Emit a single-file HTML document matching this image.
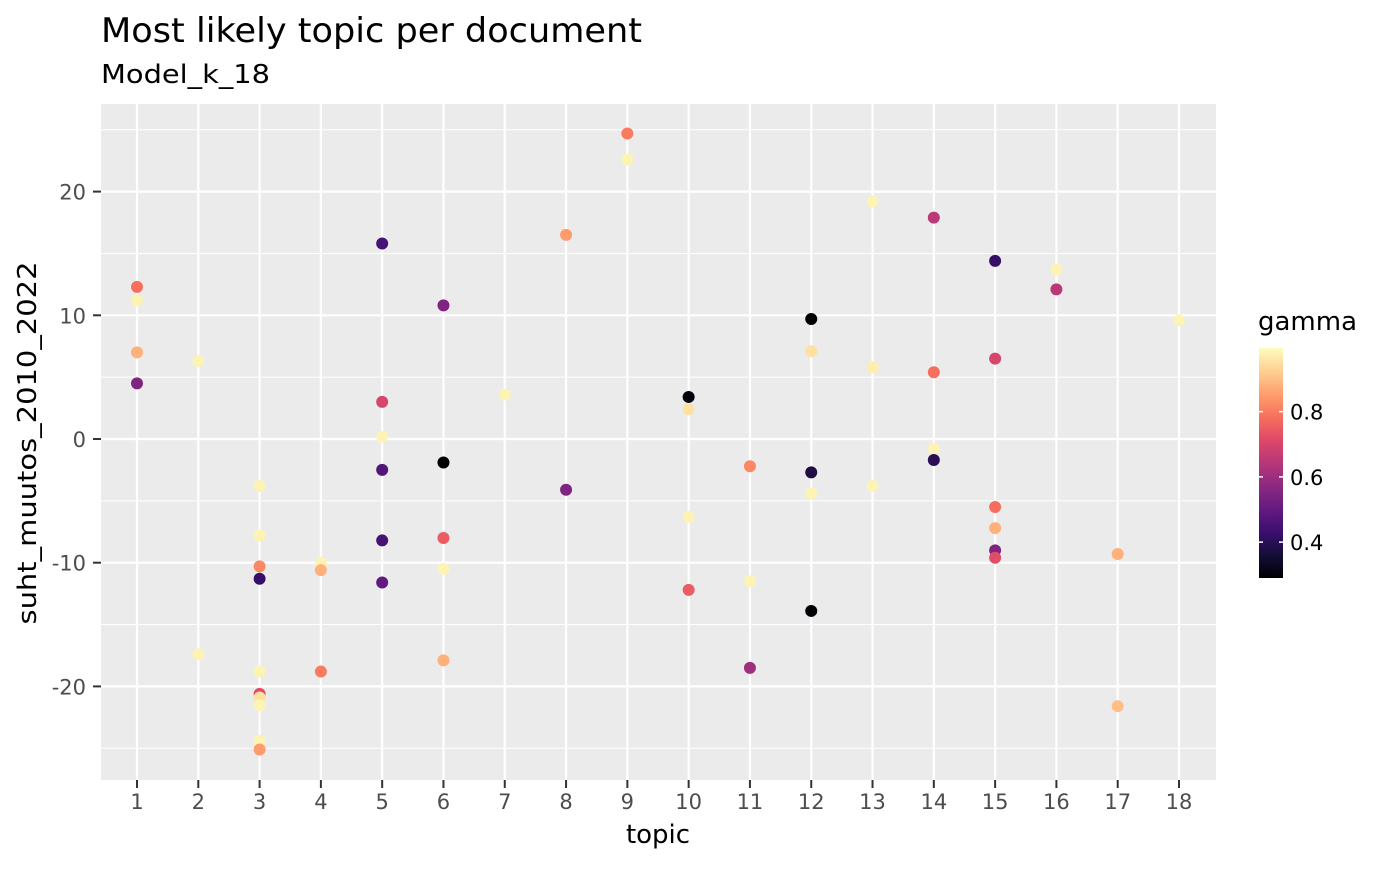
<!DOCTYPE html>
<html><head><meta charset="utf-8"><style>
body{margin:0;background:#fff;font-family:"DejaVu Sans","Liberation Sans",sans-serif}
</style></head><body>
<svg id="c" width="1400" height="865" xmlns="http://www.w3.org/2000/svg" font-family="DejaVu Sans, Liberation Sans, sans-serif">
<defs><linearGradient id="mg" x1="0" y1="1" x2="0" y2="0">
<stop offset="0" stop-color="#000004"/><stop offset="0.1" stop-color="#140e36"/><stop offset="0.2" stop-color="#3b0f70"/><stop offset="0.3" stop-color="#641a80"/><stop offset="0.4" stop-color="#8c2981"/><stop offset="0.5" stop-color="#b73779"/><stop offset="0.6" stop-color="#de4968"/><stop offset="0.7" stop-color="#f7705c"/><stop offset="0.8" stop-color="#fe9f6d"/><stop offset="0.9" stop-color="#fecf92"/><stop offset="1" stop-color="#fcfdbf"/>
</linearGradient></defs>
<text x="101" y="42" font-size="34" textLength="541" lengthAdjust="spacingAndGlyphs" fill="#000">Most likely topic per document</text>
<text x="101" y="83" font-size="26" textLength="169" lengthAdjust="spacingAndGlyphs" fill="#000">Model_k_18</text>
<rect x="101" y="104" width="1115" height="676" fill="#ebebeb"/>
<g id="grid"></g><g id="pts"></g><g id="axes"></g>
<text x="658" y="843" font-size="26" text-anchor="middle">topic</text>
<text transform="translate(36,443) rotate(-90)" font-size="26" textLength="363" lengthAdjust="spacingAndGlyphs" text-anchor="middle">suht_muutos_2010_2022</text>
<text x="1258" y="330" font-size="26">gamma</text>
<rect x="1259" y="348" width="24" height="230" fill="url(#mg)"/>
<g id="leg"></g>
</svg>
<script>
const topics=[1,1,1,1,2,2,3,3,3,3,3,3,3,3,3,3,4,4,4,5,5,5,5,5,5,6,6,6,6,6,7,8,8,9,9,10,10,10,10,11,11,11,12,12,12,12,12,13,13,13,14,14,14,14,15,15,15,15,15,15,16,16,17,17,18];
const values=[12.3,11.2,7.0,4.5,6.3,-17.4,-3.8,-7.8,-10.3,-11.3,-18.8,-20.6,-20.9,-21.5,-24.4,-25.1,-10.0,-10.6,-18.8,15.8,3.0,0.2,-2.5,-8.2,-11.6,10.8,-1.9,-8.0,-10.5,-17.9,3.6,16.5,-4.1,24.7,22.6,3.4,2.4,-6.3,-12.2,-2.2,-11.5,-18.5,9.7,7.1,-2.7,-4.4,-13.9,19.2,5.8,-3.8,17.9,5.4,-0.8,-1.7,14.4,6.5,-5.5,-7.2,-9.0,-9.6,13.7,12.1,-9.3,-21.6,9.6];
const gammas=[0.78,0.98,0.88,0.55,0.98,0.98,0.98,0.98,0.82,0.42,0.98,0.72,0.95,0.98,0.98,0.85,0.98,0.88,0.8,0.45,0.7,0.98,0.47,0.45,0.5,0.55,0.29,0.75,0.98,0.88,0.98,0.85,0.55,0.8,0.98,0.3,0.95,0.98,0.75,0.82,0.98,0.6,0.29,0.95,0.38,0.98,0.29,0.98,0.97,0.98,0.65,0.78,0.98,0.4,0.42,0.7,0.78,0.88,0.55,0.72,0.98,0.65,0.88,0.9,0.98];
const xTicks=[1,2,3,4,5,6,7,8,9,10,11,12,13,14,15,16,17,18];
const yTicks=[-20,-10,0,10,20];
const yMinor=[-25,-15,-5,5,15,25];
const legTicks=[0.4,0.6,0.8];
const gMin=0.29,gMax=0.995;
const X=v=>137+(v-1)*(1179-137)/17;
const Y=v=>439-v*12.37;
const L=g=>578-(g-gMin)/(gMax-gMin)*230;
const stops=["#000004","#140e36","#3b0f70","#641a80","#8c2981","#b73779","#de4968","#f7705c","#fe9f6d","#fecf92","#fcfdbf"];
function hex(h){return [1,3,5].map(i=>parseInt(h.substr(i,2),16));}
function magma(g){let t=Math.max(0,Math.min(1,(g-gMin)/(gMax-gMin)))*10;let i=Math.min(9,Math.floor(t)),f=t-i;let a=hex(stops[i]),b=hex(stops[i+1]);return "rgb("+a.map((v,k)=>Math.round(v+(b[k]-v)*f)).join(",")+")";}
const NS="http://www.w3.org/2000/svg";
function mk(tag,attrs,parent){const e=document.createElementNS(NS,tag);for(const k in attrs)e.setAttribute(k,attrs[k]);document.getElementById(parent).appendChild(e);return e;}
yMinor.forEach(v=>{const e=mk("line",{x1:101,x2:1216,y1:Y(v),y2:Y(v),stroke:"#fff","stroke-width":1},"grid");

});
yTicks.forEach(v=>{const e=mk("line",{x1:101,x2:1216,y1:Y(v),y2:Y(v),stroke:"#fff","stroke-width":2.2},"grid");


const t=mk("text",{x:86,y:Y(v)+8,"font-size":21,fill:"#4d4d4d","text-anchor":"end"},"axes");t.textContent=v;


mk("line",{x1:93,x2:101,y1:Y(v),y2:Y(v),stroke:"#333","stroke-width":2},"axes");});
xTicks.forEach(v=>{const e=mk("line",{x1:X(v),x2:X(v),y1:104,y2:780,stroke:"#fff","stroke-width":2.2},"grid");


const t=mk("text",{x:X(v),y:809,"font-size":21,fill:"#4d4d4d","text-anchor":"middle"},"axes");t.textContent=v;


mk("line",{x1:X(v),x2:X(v),y1:780,y2:788,stroke:"#333","stroke-width":2},"axes");});
topics.forEach((tp,i)=>{const c=mk("circle",{cx:X(tp),cy:Y(values[i]),r:6,fill:magma(gammas[i])},"pts");

});
legTicks.forEach(v=>{const y=L(v);
mk("line",{x1:1259,x2:1263,y1:y,y2:y,stroke:"#fff","stroke-width":1.5},"leg");
mk("line",{x1:1279,x2:1283,y1:y,y2:y,stroke:"#fff","stroke-width":1.5},"leg");
const t=mk("text",{x:1290,y:y+8,"font-size":21,fill:"#000"},"leg");t.textContent=v.toFixed(1);

});
</script>
</body></html>
